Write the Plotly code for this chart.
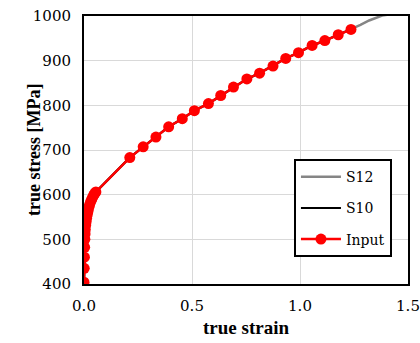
import plotly.graph_objects as go

# Input data (true strain, true stress MPa)
input_strain = [0.0, 0.001, 0.002, 0.003, 0.004, 0.005, 0.006, 0.008, 0.010, 0.012,
                0.015, 0.018, 0.021, 0.025, 0.030, 0.035, 0.040, 0.045, 0.050, 0.055,
                0.212, 0.274, 0.333, 0.392, 0.455, 0.511, 0.576, 0.633, 0.692, 0.754,
                0.813, 0.875, 0.934, 0.993, 1.056, 1.115, 1.177, 1.236]
input_stress = [404, 435, 460, 482, 500, 512, 522, 532, 540, 547,
                555, 562, 569, 576, 583, 589, 594, 599, 603, 606,
                683, 707, 729, 752, 770, 788, 804, 822, 841, 859,
                872, 888, 905, 918, 934, 945, 958, 970]

s10_strain = input_strain[:]
s10_stress = input_stress[:]

s12_strain = input_strain + [1.28, 1.32, 1.35, 1.38, 1.42, 1.46]
s12_stress = input_stress + [980, 990, 996, 1001, 1004, 1007]

FONT = "Liberation Serif"
TICKFONT = "DejaVu Serif"

fig = go.Figure()
fig.add_trace(go.Scatter(x=s12_strain, y=s12_stress, mode="lines", name="S12",
                         line=dict(color="#858585", width=2.5), legendgroup="a"))
fig.add_trace(go.Scatter(x=s10_strain, y=s10_stress, mode="lines", name="S10",
                         line=dict(color="black", width=2), legendgroup="b"))
fig.add_trace(go.Scatter(x=input_strain, y=input_stress, mode="lines+markers", name="Input",
                         line=dict(color="#ff0000", width=2.5),
                         marker=dict(color="#ff0000", size=11), legendgroup="c"))

fig.update_layout(
    width=420, height=343,
    margin=dict(l=84, r=12, t=16, b=59, autoexpand=False),
    paper_bgcolor="white", plot_bgcolor="white",
    font=dict(family=FONT, size=18, color="black"),
    showlegend=True,
    legend=dict(x=0.648, y=0.466, xanchor="left", yanchor="top",
                bordercolor="black", borderwidth=2, bgcolor="white",
                font=dict(family=TICKFONT, size=14, color="black"),
                traceorder="grouped", tracegroupgap=10, itemwidth=40),
    xaxis=dict(range=[0, 1.5], dtick=0.5, tickformat=".1f", automargin=False,
               tickfont=dict(family=TICKFONT, size=15, color="black"),
               ticklabelstandoff=7,
               showgrid=True, gridcolor="#d9d9d9", gridwidth=1,
               showline=True, linecolor="black", linewidth=2, mirror=True,
               zeroline=False, ticks="", ticklen=0,
               title=dict(text="<b>true strain</b>", font=dict(family=FONT, size=19, color="black"), standoff=7)),
    yaxis=dict(range=[400, 1000], dtick=100, automargin=False,
               tickfont=dict(family=TICKFONT, size=15, color="black"),
               ticklabelstandoff=8,
               showgrid=True, gridcolor="#d9d9d9", gridwidth=1,
               showline=True, linecolor="black", linewidth=2, mirror=True,
               zeroline=False, ticks="", ticklen=0),
    annotations=[dict(text="<b>true stress [MPa]</b>", textangle=-90,
                      xref="paper", yref="paper", x=-0.154, y=0.5,
                      xanchor="center", yanchor="middle", showarrow=False,
                      font=dict(family=FONT, size=18, color="black"))],
)

fig.write_html("out.html")
